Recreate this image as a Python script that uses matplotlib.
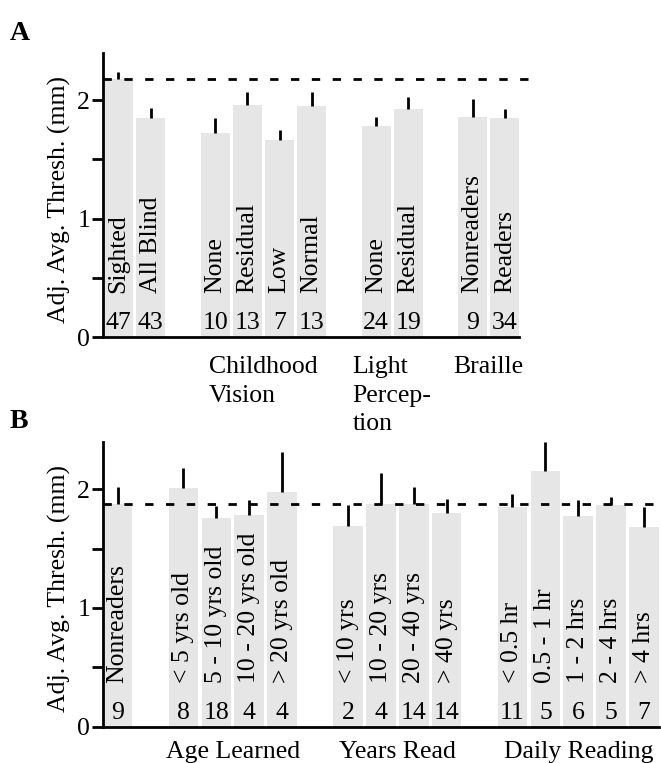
import matplotlib
matplotlib.use("Agg")
import matplotlib.pyplot as plt

plt.rcParams["font.family"] = ["Liberation Serif", "DejaVu Serif"]

# -------------------------
# 1) data
# -------------------------

# panel A
a_labels = ["Sighted", "All Blind", "None", "Residual", "Low", "Normal",
            "None", "Residual", "Nonreaders", "Readers"]
a_means = [2.18, 1.85, 1.72, 1.96, 1.66, 1.946, 1.78, 1.924, 1.86, 1.845]
a_sem = [0.06, 0.08, 0.125, 0.11, 0.09, 0.125, 0.08, 0.105, 0.145, 0.08]
a_counts = [47, 43, 10, 13, 7, 13, 24, 19, 9, 34]
a_group_sizes = [2, 4, 2, 2]
a_group_names = ["", "Childhood\nVision", "Light\nPercep-\ntion", "Braille"]
a_ref = 2.18

# panel B
b_labels = ["Nonreaders", "< 5 yrs old", "5 - 10 yrs old", "10 - 20 yrs old",
            "> 20 yrs old", "< 10 yrs", "10 - 20 yrs", "20 - 40 yrs", "> 40 yrs",
            "< 0.5 hr", "0.5 - 1 hr", "1 - 2 hrs", "2 - 4 hrs", "> 4 hrs"]
b_means = [1.876, 2.008, 1.756, 1.784, 1.975, 1.693, 1.88, 1.876, 1.80,
           1.853, 2.157, 1.775, 1.868, 1.68]
b_sem = [0.14, 0.17, 0.10, 0.125, 0.335, 0.175, 0.255, 0.145, 0.115,
         0.11, 0.245, 0.135, 0.07, 0.17]
b_counts = [9, 8, 18, 4, 4, 2, 4, 14, 14, 11, 5, 6, 5, 7]
b_group_sizes = [1, 4, 4, 5]
b_group_names = ["", "Age Learned", "Years Read", "Daily Reading"]
b_ref = 1.876

FS = 18.5
BAR_COLOR = "#e6e6e6"


def slot_positions(sizes):
    # one empty slot between groups
    pos = []
    x = 0
    for n in sizes:
        pos += list(range(x, x + n))
        x += n + 1
    return pos


def draw_panel(ax, labels, means, sem, counts, sizes, names, ref, ref_end,
               ylab_x, name_offset):
    pos = slot_positions(sizes)
    ax.bar(pos, means, width=0.9, color=BAR_COLOR, zorder=1)
    tops = [m + s for m, s in zip(means, sem)]
    ax.vlines(pos, means, tops, color="black", linewidth=2.0, zorder=3)

    ax.plot([ax.get_xlim()[0], ref_end], [ref, ref], color="black",
            linewidth=2.0, dashes=(3, 4.5), clip_on=False, zorder=2)

    for x, lab, n in zip(pos, labels, counts):
        ax.text(x, 0.37, lab, rotation=90, ha="center", va="bottom", fontsize=FS)
        ax.text(x, 0.065, str(n), ha="center", va="baseline", fontsize=FS)

    # group names under the axis
    start = 0
    for n, name in zip(sizes, names):
        if name:
            center = (pos[start] + pos[start + n - 1]) / 2
            ax.annotate(name, xy=(center, 0), xycoords=("data", "axes fraction"),
                        xytext=(0, name_offset), textcoords="offset points",
                        ha="center", va="top", multialignment="left",
                        fontsize=FS, linespacing=1.4)
        start += n

    ax.set_ylim(0, 2.4)
    ax.set_yticks([0, 0.5, 1, 1.5, 2])
    ax.set_yticklabels(["0", "", "1", "", "2"])
    ax.set_xticks([])
    ax.tick_params(axis="y", direction="out", length=8, width=2, pad=1,
                   labelsize=FS)
    for side in ["top", "right"]:
        ax.spines[side].set_visible(False)
    ax.spines["left"].set_linewidth(2)
    ax.spines["bottom"].set_linewidth(2)
    ax.set_ylabel("Adj. Avg. Thresh. (mm)", fontsize=FS)
    ax.yaxis.set_label_coords(ylab_x, 0.484)


fig = plt.figure(figsize=(6.61, 7.63), dpi=100)

# panel A
ax_a = fig.add_axes([0.1554, 0.5583, 0.6304, 0.3727])
ax_a.set_xlim(-0.49, 12.45)
draw_panel(ax_a, a_labels, a_means, a_sem, a_counts, a_group_sizes,
           a_group_names, a_ref, 12.83, -0.076, -13.5)

# panel B
ax_b = fig.add_axes([0.1554, 0.0476, 0.8414, 0.3734])
ax_b.set_xlim(-0.455, 16.45)
draw_panel(ax_b, b_labels, b_means, b_sem, b_counts, b_group_sizes,
           b_group_names, b_ref, 16.75, -0.057, -10.5)

fig.text(10 / 661, 1 - 40 / 763, "A", fontsize=20, fontweight="bold",
         ha="left", va="baseline")
fig.text(10 / 661, 1 - 428 / 763, "B", fontsize=20, fontweight="bold",
         ha="left", va="baseline")

fig.savefig("out.png", dpi=100)
